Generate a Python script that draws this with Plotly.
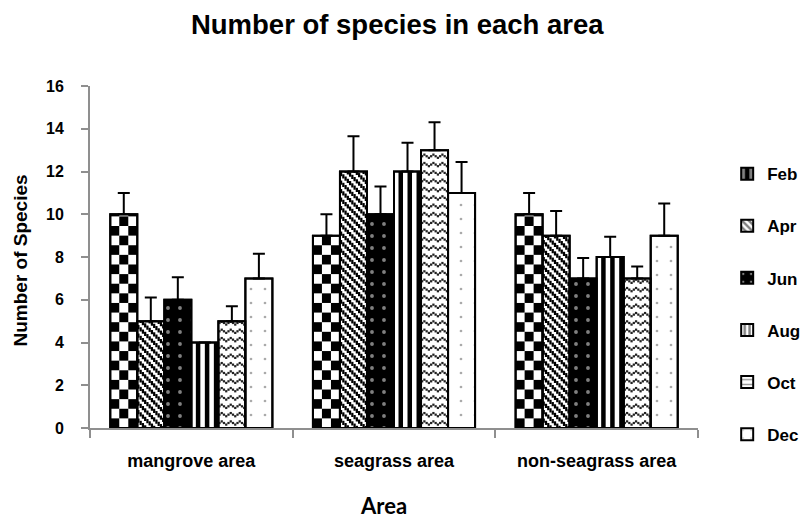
import math
import plotly.graph_objects as go

# ---- data -------------------------------------------------------------
areas = ["mangrove area", "seagrass area", "non-seagrass area"]
months = ["Feb", "Apr", "Jun", "Aug", "Oct", "Dec"]

feb = [10, 9, 10]
apr = [5, 12, 9]
jun = [6, 10, 7]
aug = [4, 12, 8]
oct_ = [5, 13, 7]
dec = [7, 11, 9]

feb_err = [1.0, 1.0, 1.0]
apr_err = [1.1, 1.65, 1.15]
jun_err = [1.05, 1.3, 0.95]
aug_err = [0.0, 1.35, 0.95]
oct_err = [0.7, 1.3, 0.55]
dec_err = [1.15, 1.45, 1.5]

y_ticks = [0, 2, 4, 6, 8, 10, 12, 14, 16]

values = [feb, apr, jun, aug, oct_, dec]
errors = [feb_err, apr_err, jun_err, aug_err, oct_err, dec_err]

# ---- styling ----------------------------------------------------------
FONT = "Liberation Sans"
AXIS_GREY = "#8f8f8f"
WIDTH, HEIGHT = 801, 518
MARGIN = dict(l=90, r=103, t=86, b=90)
Y_MAX = 16
GROUP = 0.8                      # share of each category taken by its bars
BAR_W = GROUP / len(months)
PX_PER_UNIT = (HEIGHT - MARGIN["t"] - MARGIN["b"]) / Y_MAX
BAR_PX = BAR_W * (WIDTH - MARGIN["l"] - MARGIN["r"]) / len(areas)


# textures built from small filled cells: each yields (column, base, height)
def checker_cells(v, row=0.45, cols=3):
    for k in range(math.ceil(v / row)):
        h = min(row, v - k * row)
        for c in range(cols):
            if (k + c) % 2 == 0:
                yield c, k * row, h


def stripe_cells(v, cols=6):
    for c in range(cols):
        if c % 2 == 1:
            yield c, 0.0, v


def diagonal_cells(v, cols=12, period_px=8.5, thick_px=4.2):
    cw_px = BAR_PX / cols
    n_lines = math.ceil((v * PX_PER_UNIT + BAR_PX) / period_px) + 1
    for c in range(cols):
        x_px = (c + 0.5) * cw_px
        for n in range(n_lines):
            mid = (n * period_px - x_px) / PX_PER_UNIT
            half = thick_px / 2 / PX_PER_UNIT
            lo, hi = max(0.0, mid - half), min(v, mid + half)
            if hi > lo:
                yield c, lo, hi - lo


def wave_cells(v, spacing=0.39, amp=0.075, thick=0.105, cols=12):
    for r in range(math.ceil(v / spacing)):
        mid = (r + 0.6) * spacing
        for c in range(cols):
            yc = mid + amp * math.sin(2 * math.pi * c / 4)
            lo, hi = max(0.0, yc - thick / 2), min(v, yc + thick / 2)
            if hi > lo:
                yield c, lo, hi - lo


cell_fills = {
    "Feb": dict(cells=checker_cells, cols=3, color="black"),
    "Apr": dict(cells=diagonal_cells, cols=12, color="black"),
    "Aug": dict(cells=stripe_cells, cols=6, color="black"),
    "Oct": dict(cells=wave_cells, cols=12, color="#222222"),
}

patterns = {
    "Feb": dict(shape="|", fgcolor="white", bgcolor="black", size=12, solidity=0.45),
    "Apr": dict(shape="\\", fgcolor="black", bgcolor="white", size=6, solidity=0.5),
    "Jun": dict(shape=".", fgcolor="white", bgcolor="black", size=12, solidity=0.08),
    "Aug": dict(shape="|", fgcolor="black", bgcolor="white", size=6, solidity=0.5),
    "Oct": dict(shape="-", fgcolor="#333333", bgcolor="white", size=6, solidity=0.3),
    "Dec": dict(shape=".", fgcolor="#555555", bgcolor="white", size=14, solidity=0.03),
}


def offset_of(j):
    return -GROUP / 2 + j * BAR_W


fig = go.Figure()

for j, (m, vals) in enumerate(zip(months, values)):
    if m in cell_fills:
        spec = cell_fills[m]
        # legend-only entry carrying the swatch
        fig.add_trace(go.Bar(
            x=[areas[0]], y=[None], name=m, legendgroup=m,
            marker=dict(color="white", pattern=patterns[m],
                        line=dict(color="black", width=2)),
            hoverinfo="skip",
        ))
        fig.add_trace(go.Bar(
            x=areas, y=vals, name=m, legendgroup=m, showlegend=False,
            width=[BAR_W] * len(areas), offset=[offset_of(j)] * len(areas),
            marker=dict(color="white", line=dict(color="black", width=2)),
            hoverinfo="skip",
        ))
        cw = BAR_W / spec["cols"]
        cx, cy, cb, co = [], [], [], []
        for area, v in zip(areas, vals):
            for c, base, h in spec["cells"](v):
                cx.append(area)
                cy.append(h)
                cb.append(base)
                co.append(offset_of(j) + c * cw)
        fig.add_trace(go.Bar(
            x=cx, y=cy, base=cb, offset=co, width=[cw] * len(cx),
            marker=dict(color=spec["color"], line=dict(width=0)),
            legendgroup=m, showlegend=False, hoverinfo="skip",
        ))
    else:
        fig.add_trace(go.Bar(
            x=areas, y=vals, name=m, legendgroup=m,
            width=[BAR_W] * len(areas), offset=[offset_of(j)] * len(areas),
            marker=dict(color="white", pattern=patterns[m],
                        line=dict(color="black", width=2)),
            hoverinfo="skip",
        ))

# outlines and one-sided error bars on top of the fills
for j, (m, vals, errs) in enumerate(zip(months, values, errors)):
    fig.add_trace(go.Bar(
        x=areas, y=vals, name=m, legendgroup=m, showlegend=False,
        width=[BAR_W] * len(areas), offset=[offset_of(j)] * len(areas),
        marker=dict(color="rgba(0,0,0,0)", line=dict(color="black", width=2)),
        error_y=dict(type="data", symmetric=False, array=errs,
                     arrayminus=[0] * len(errs), color="black",
                     thickness=2, width=6),
        hovertemplate="%{x}<br>" + m + ": %{y}<extra></extra>",
    ))

fig.update_layout(
    width=WIDTH, height=HEIGHT,
    margin=dict(**MARGIN, autoexpand=False),
    paper_bgcolor="white", plot_bgcolor="white",
    barmode="overlay",
    font=dict(family=FONT, color="black"),
    title=dict(text="Number of species in each area",
               font=dict(family=FONT, size=27.5, weight="bold", color="black"),
               x=0.496, xref="container", xanchor="center",
               y=1 - 24 / HEIGHT, yref="container", yanchor="middle"),
    xaxis=dict(
        type="category", categoryorder="array", categoryarray=areas,
        range=[-0.5, len(areas) - 0.5],
        showline=True, linecolor=AXIS_GREY, linewidth=2,
        ticks="outside", tickson="boundaries", ticklen=8,
        tickcolor=AXIS_GREY, tickwidth=2,
        tickfont=dict(family=FONT, size=18, weight="bold", color="black"),
        ticklabelstandoff=15,
        showgrid=False, zeroline=False,
    ),
    yaxis=dict(
        range=[0, Y_MAX], tickvals=y_ticks,
        showline=True, linecolor=AXIS_GREY, linewidth=2,
        ticks="outside", ticklen=7, tickcolor=AXIS_GREY, tickwidth=2,
        tickfont=dict(family=FONT, size=16, weight="bold", color="black"),
        ticklabelstandoff=14,
        showgrid=False, zeroline=False,
    ),
    legend=dict(
        x=1.048, xanchor="left", y=0.795, yanchor="top",
        font=dict(family=FONT, size=17, weight="bold", color="black"),
        tracegroupgap=27, bgcolor="rgba(0,0,0,0)",
    ),
    annotations=[
        dict(text="Number of Species", textangle=-90,
             xref="paper", yref="paper", x=-0.115, y=0.49,
             xanchor="center", yanchor="middle", showarrow=False,
             font=dict(family=FONT, size=19, weight="bold", color="black")),
        dict(text="Area", xref="paper", yref="paper", x=0.482, y=-0.228,
             xanchor="center", yanchor="middle", showarrow=False,
             font=dict(family="Lato", size=22, weight="bold", color="black")),
    ],
)

fig.write_html("out.html")
